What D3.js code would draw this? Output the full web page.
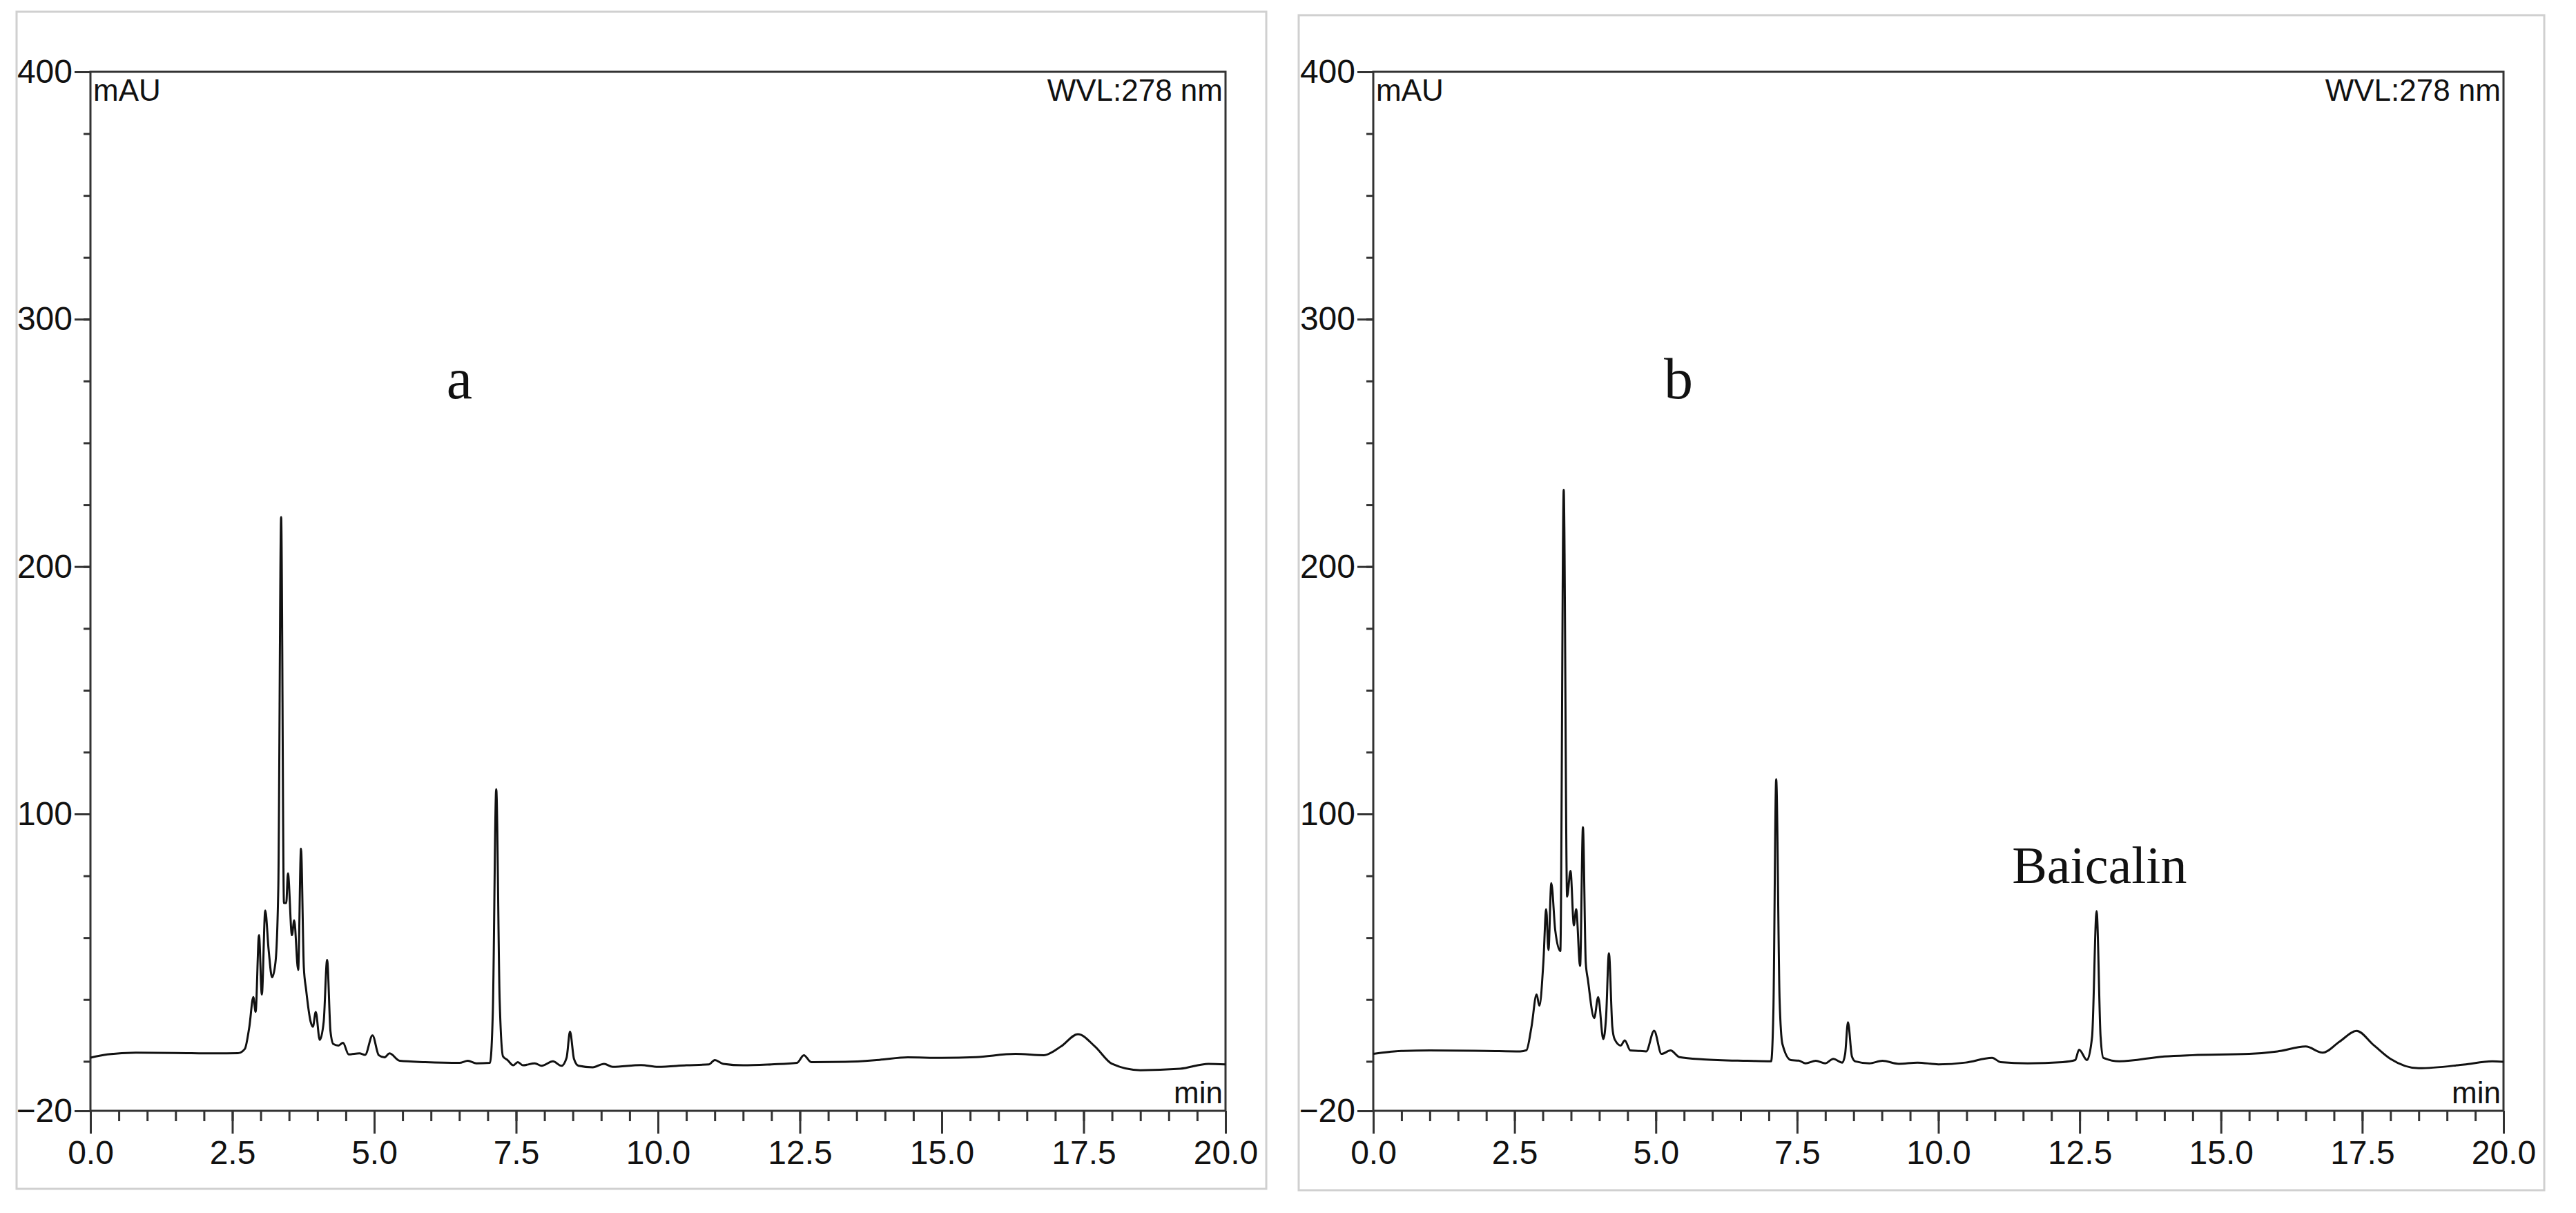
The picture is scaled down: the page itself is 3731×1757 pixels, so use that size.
<!DOCTYPE html>
<html>
<head>
<meta charset="utf-8">
<script src="https://cdn.jsdelivr.net/npm/d3@7"></script>
<style>
  body { margin: 0; background: #fff; }
  svg { display: block; }
</style>
</head>
<body>
<svg width="3731" height="1757"></svg>
<script>
// axis ticks
const timeMajor = [0, 2.5, 5, 7.5, 10, 12.5, 15, 17.5, 20];
const timeMinor = d3.range(0, 20.01, 0.5);
const absMajor = [-20, 100, 200, 300, 400];
const absMinor = d3.range(0, 400, 25);

// chromatogram a: [time (min), absorbance (mAU)]
const seriesA = [
  [0, 1.5], [0.3, 2.8], [0.8, 3.5], [1.5, 3.4], [2.2, 3.2], [2.6, 3.3], [2.72, 5], [2.8, 14],
  [2.87, 26], [2.91, 20], [2.97, 51], [3.02, 27], [3.08, 61], [3.14, 45], [3.2, 34],
  [3.26, 40], [3.31, 70], [3.36, 220], [3.41, 64], [3.45, 64], [3.48, 76], [3.55, 51],
  [3.59, 57], [3.66, 37], [3.71, 86], [3.76, 38], [3.8, 29], [3.88, 16], [3.92, 14],
  [3.97, 20], [4.04, 8.7], [4.11, 16], [4.17, 41], [4.23, 12], [4.28, 7], [4.37, 6.4],
  [4.45, 7.5], [4.55, 2.8], [4.74, 3.2], [4.84, 2.6], [4.97, 10.5], [5.08, 2.5],
  [5.18, 1.6], [5.27, 3.2], [5.45, 0.2], [5.9, -0.3], [6.5, -0.6], [6.65, 0.2], [6.8, -0.8],
  [7.04, -0.6], [7.09, 20], [7.15, 110], [7.21, 25], [7.27, 2], [7.35, 0.5], [7.45, -1.6],
  [7.53, -0.3], [7.62, -1.6], [7.83, -0.8], [7.95, -1.8], [8.15, 0], [8.3, -1.8],
  [8.39, 1.5], [8.45, 12], [8.52, 1], [8.6, -1.8], [8.85, -2.4], [9.05, -1], [9.2, -2.2],
  [9.7, -1.5], [10.0, -2.2], [10.5, -1.6], [10.9, -1.2], [11.0, 0.5], [11.15, -1],
  [11.5, -1.6], [12.0, -1.2], [12.45, -0.6], [12.57, 2.5], [12.7, -0.3], [13.3, -0.2],
  [13.9, 0.6], [14.4, 1.6], [15.0, 1.4], [15.6, 1.7], [16.3, 3], [16.8, 2.5], [17.1, 6],
  [17.4, 11], [17.7, 6], [18.0, -1], [18.5, -3.6], [19.2, -3], [19.7, -1], [20, -1.2]
];

// chromatogram b
const seriesB = [
  [0, 3], [0.5, 4.2], [1.0, 4.4], [2.0, 4.2], [2.6, 4], [2.71, 4.5], [2.8, 14],
  [2.89, 27], [2.94, 22.5], [3.01, 40], [3.06, 61.5], [3.1, 45], [3.15, 72], [3.22, 53],
  [3.31, 44.6], [3.37, 231], [3.43, 66.6], [3.49, 77], [3.55, 55], [3.59, 61.5],
  [3.66, 38.6], [3.71, 94.6], [3.76, 40], [3.8, 32.7], [3.91, 17.5], [3.98, 26],
  [4.07, 9], [4.12, 18], [4.17, 43.7], [4.23, 14], [4.27, 9], [4.38, 6.4], [4.45, 8.5],
  [4.55, 4.4], [4.72, 4.2], [4.83, 4], [4.97, 12.4], [5.1, 3], [5.26, 4.4], [5.42, 1.7],
  [5.84, 0.8], [6.62, 0.2], [7.04, 0], [7.08, 20], [7.13, 114], [7.19, 25], [7.24, 7],
  [7.39, 0.5], [7.53, 0.3], [7.65, -0.8], [7.83, 0.2], [8.0, -0.8], [8.14, 1], [8.3, -0.5],
  [8.35, 3], [8.4, 15.8], [8.47, 2], [8.53, 0], [8.78, -0.8], [9.01, 0.2], [9.3, -1],
  [9.63, -0.5], [10.0, -1.2], [10.48, -0.5], [10.95, 1.4], [11.1, -0.3], [11.58, -0.8],
  [12.2, -0.3], [12.42, 0.5], [12.49, 4.7], [12.63, 0.5], [12.72, 10], [12.8, 60.7],
  [12.87, 10], [12.92, 1.4], [13.2, 0], [14.0, 2], [14.5, 2.5], [15.5, 3], [16.0, 4],
  [16.5, 6], [16.8, 3.5], [17.1, 8], [17.4, 12.3], [17.7, 6.6], [18.0, 1], [18.5, -2.8],
  [19.3, -1.3], [19.8, 0], [20, -0.2]
];

const panels = [
  { data: seriesA, tag: "a", tagTime: 6.5, tagAbs: 268, border: [24, 17, 1834, 1722], left: 131, right: 1775 },
  { data: seriesB, tag: "b", tagTime: 5.4, tagAbs: 268, border: [1881, 22, 3685, 1724], left: 1989, right: 3626,
    note: "Baicalin", noteTime: 12.85, noteAbs: 72 }
];

const plotTop = 104, plotBottom = 1609;
const axisFont = "'Liberation Sans Narrow', 'Liberation Sans', Arial, sans-serif";
const serifFont = "'Liberation Serif', 'Times New Roman', serif";

const svg = d3.select("svg");

panels.forEach(p => {
  // light outer frame
  svg.append("rect")
    .attr("x", p.border[0]).attr("y", p.border[1])
    .attr("width", p.border[2] - p.border[0]).attr("height", p.border[3] - p.border[1])
    .attr("fill", "none").attr("stroke", "#d0d0d0").attr("stroke-width", 3);

  const x = d3.scaleLinear().domain([0, 20]).range([p.left, p.right]);
  const y = d3.scaleLinear().domain([-20, 400]).range([plotBottom, plotTop]);
  const g = svg.append("g");

  // plot frame
  g.append("rect")
    .attr("x", p.left).attr("y", plotTop)
    .attr("width", p.right - p.left).attr("height", plotBottom - plotTop)
    .attr("fill", "none").attr("stroke", "#333").attr("stroke-width", 3);

  // x axis minor + major
  g.append("g").attr("transform", `translate(0,${plotBottom})`)
    .call(d3.axisBottom(x).tickValues(timeMinor).tickSize(15).tickFormat(""))
    .call(a => a.select(".domain").remove())
    .selectAll("line").attr("stroke", "#333").attr("stroke-width", 3);
  const xa = g.append("g").attr("transform", `translate(0,${plotBottom})`)
    .call(d3.axisBottom(x).tickValues(timeMajor).tickSize(33).tickPadding(10).tickFormat(d3.format(".1f")));
  xa.select(".domain").remove();
  xa.selectAll("line").attr("stroke", "#333").attr("stroke-width", 3);
  xa.selectAll("text").attr("font-family", axisFont).attr("font-size", 48).attr("fill", "#111");

  // y axis minor + major
  g.append("g").attr("transform", `translate(${p.left},0)`)
    .call(d3.axisLeft(y).tickValues(absMinor).tickSize(10).tickFormat(""))
    .call(a => a.select(".domain").remove())
    .selectAll("line").attr("stroke", "#333").attr("stroke-width", 3);
  const ya = g.append("g").attr("transform", `translate(${p.left},0)`)
    .call(d3.axisLeft(y).tickValues(absMajor).tickSize(23).tickPadding(3));
  ya.select(".domain").remove();
  ya.selectAll("line").attr("stroke", "#333").attr("stroke-width", 3);
  ya.selectAll("text").attr("font-family", axisFont).attr("font-size", 48).attr("fill", "#111");

  // corner labels
  g.append("text").attr("x", p.left + 4).attr("y", plotTop + 42)
    .attr("font-family", axisFont).attr("font-size", 44).attr("fill", "#111").text("mAU");
  g.append("text").attr("x", p.right - 4).attr("y", plotTop + 42).attr("text-anchor", "end")
    .attr("font-family", axisFont).attr("font-size", 44).attr("fill", "#111").text("WVL:278 nm");
  g.append("text").attr("x", p.right - 4).attr("y", plotBottom - 11).attr("text-anchor", "end")
    .attr("font-family", axisFont).attr("font-size", 44).attr("fill", "#111").text("min");

  // trace
  const line = d3.line().x(d => x(d[0])).y(d => y(d[1])).curve(d3.curveMonotoneX);
  g.append("path").datum(p.data).attr("d", line)
    .attr("fill", "none").attr("stroke", "#111").attr("stroke-width", 3).attr("stroke-linejoin", "round");

  // annotations
  g.append("text").attr("x", x(p.tagTime)).attr("y", y(p.tagAbs)).attr("text-anchor", "middle")
    .attr("font-family", serifFont).attr("font-size", 84).attr("fill", "#111").text(p.tag);
  if (p.note) {
    g.append("text").attr("x", x(p.noteTime)).attr("y", y(p.noteAbs)).attr("text-anchor", "middle")
      .attr("font-family", serifFont).attr("font-size", 76).attr("fill", "#111").text(p.note);
  }
});
</script>
</body>
</html>
